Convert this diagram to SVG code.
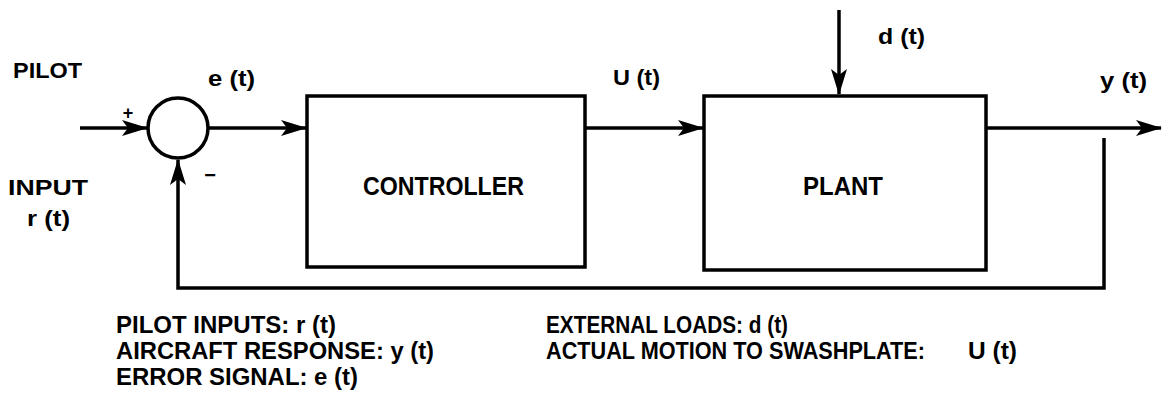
<svg xmlns="http://www.w3.org/2000/svg" width="1163" height="404" viewBox="0 0 1163 404">
  <style>
    .ln { fill: none; stroke: #000; stroke-width: 3.5; }
    .box { fill: #fff; stroke: #000; stroke-width: 3.5; }
    .t { font-family: "Liberation Sans", Arial, sans-serif; font-weight: bold; fill: #000; }
    .lbl { font-size: 22px; }
    .big { font-size: 25px; }
    .leg { font-size: 24px; }
  </style>
  <defs>
    <marker id="arr" markerUnits="userSpaceOnUse" viewBox="0 0 26 16" markerWidth="26" markerHeight="16" refX="25" refY="8" orient="auto">
      <path d="M0,0 L26,8 L0,16 L6,8 z" fill="#000"/>
    </marker>
  </defs>
  <rect width="1163" height="404" fill="#fff"/>

  <g id="connectors">
    <path class="ln" d="M80,128 L147,128" marker-end="url(#arr)"/>
    <path class="ln" d="M208,128 L306,128" marker-end="url(#arr)"/>
    <path class="ln" d="M585,128 L703,128" marker-end="url(#arr)"/>
    <path class="ln" d="M839,10 L839,94" marker-end="url(#arr)"/>
    <path class="ln" d="M986,128 L1161,128" marker-end="url(#arr)"/>
    <path class="ln" d="M1104,138 L1104,288 L178,288 L178,160" marker-end="url(#arr)"/>
  </g>

  <g id="summing-junction">
    <circle class="ln" cx="178" cy="128" r="30"/>
    <text class="t" x="128" y="119" font-size="18" text-anchor="middle">+</text>
    <text class="t" x="210" y="182" font-size="20" text-anchor="middle">−</text>
  </g>

  <g id="controller">
    <rect class="box" x="307" y="96" width="278" height="171"/>
    <text class="t big" x="363" y="195" textLength="161" lengthAdjust="spacingAndGlyphs">CONTROLLER</text>
  </g>

  <g id="plant">
    <rect class="box" x="704" y="96" width="282" height="174"/>
    <text class="t big" x="803" y="195" textLength="80" lengthAdjust="spacingAndGlyphs">PLANT</text>
  </g>

  <g id="pilot-input">
    <text class="t lbl" x="13" y="78" textLength="69" lengthAdjust="spacingAndGlyphs">PILOT</text>
    <text class="t lbl" x="8" y="195" textLength="80" lengthAdjust="spacingAndGlyphs">INPUT</text>
    <text class="t lbl" x="27" y="226" textLength="43" lengthAdjust="spacingAndGlyphs">r (t)</text>
  </g>

  <g id="signal-labels">
    <text class="t lbl" x="208" y="86" textLength="47" lengthAdjust="spacingAndGlyphs">e (t)</text>
    <text class="t lbl" x="613" y="85" textLength="47" lengthAdjust="spacingAndGlyphs">U (t)</text>
    <text class="t lbl" x="878" y="44" textLength="47" lengthAdjust="spacingAndGlyphs">d (t)</text>
    <text class="t lbl" x="1100" y="88" textLength="47" lengthAdjust="spacingAndGlyphs">y (t)</text>
  </g>

  <g id="legend">
    <text class="t leg" x="116" y="333" textLength="220" lengthAdjust="spacingAndGlyphs">PILOT INPUTS: r (t)</text>
    <text class="t leg" x="116" y="359" textLength="318" lengthAdjust="spacingAndGlyphs">AIRCRAFT RESPONSE: y (t)</text>
    <text class="t leg" x="116" y="385" textLength="242" lengthAdjust="spacingAndGlyphs">ERROR SIGNAL: e (t)</text>
    <text class="t leg" x="546" y="333" textLength="242" lengthAdjust="spacingAndGlyphs">EXTERNAL LOADS: d (t)</text>
    <text class="t leg" x="546" y="359" textLength="379" lengthAdjust="spacingAndGlyphs">ACTUAL MOTION TO SWASHPLATE:</text>
    <text class="t leg" x="968" y="359" textLength="49" lengthAdjust="spacingAndGlyphs">U (t)</text>
  </g>
</svg>
